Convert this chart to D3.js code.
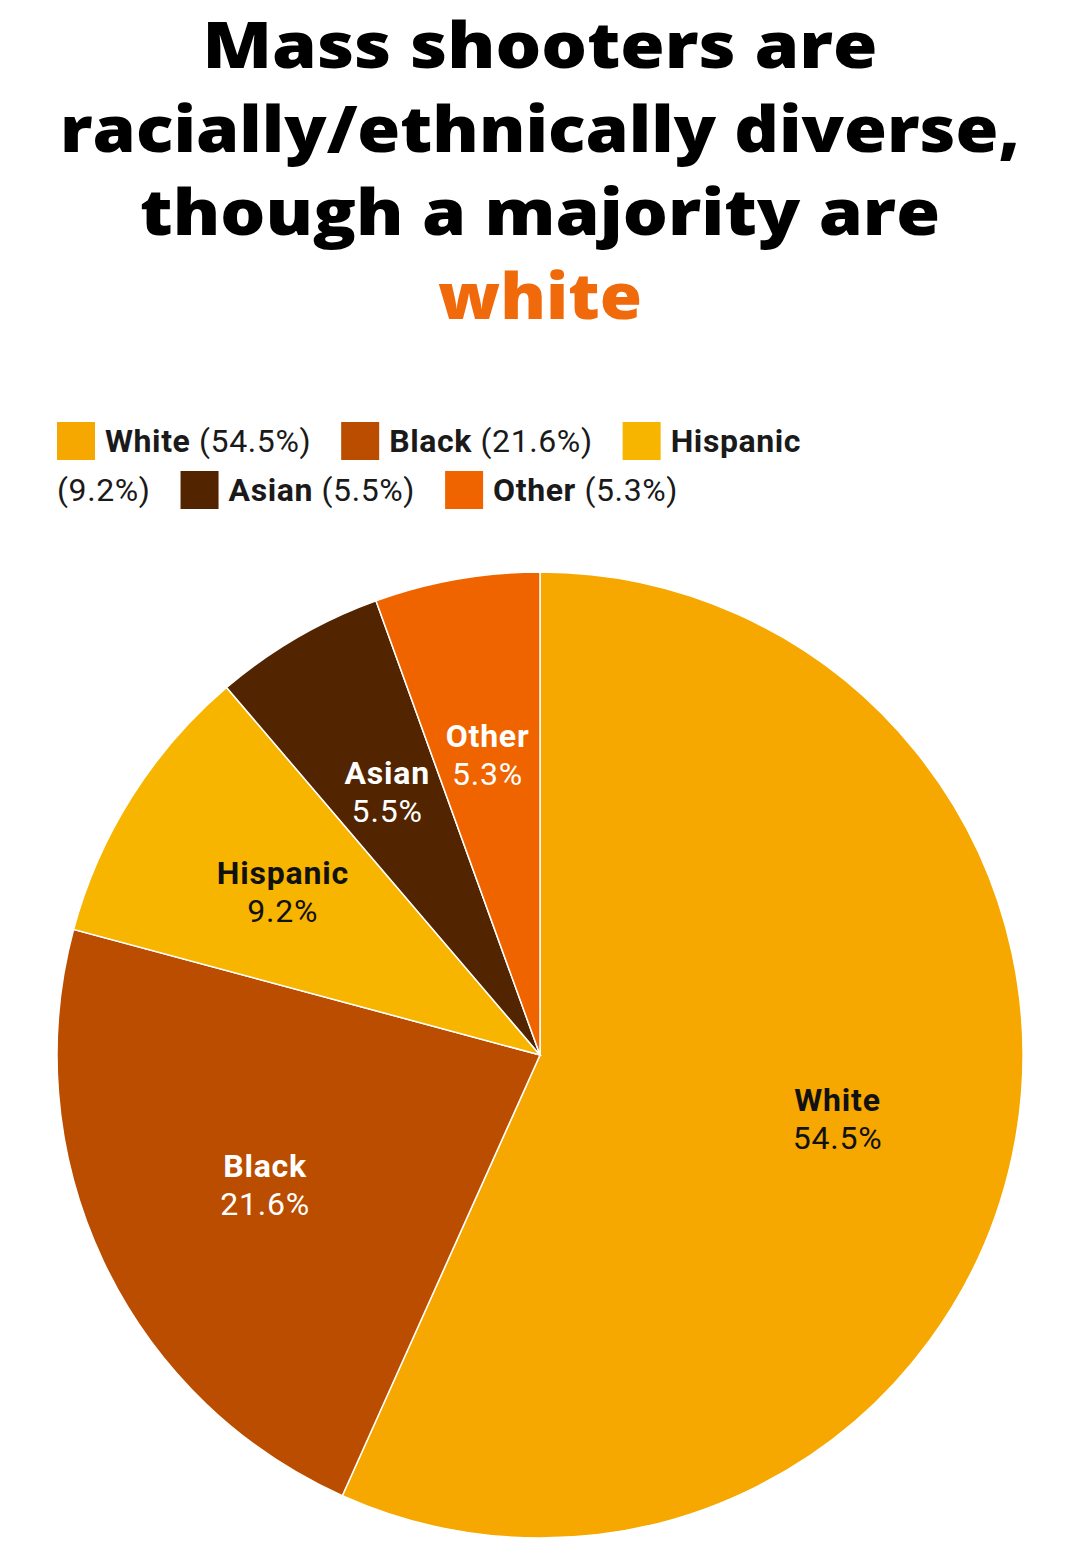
<!DOCTYPE html>
<html>
<head>
<meta charset="utf-8">
<script src="https://cdn.jsdelivr.net/npm/d3@7"></script>
<style>
  body { margin: 0; background: #fff; }
  svg { display: block; }
</style>
</head>
<body>
<div id="chart"></div>
<script>

// data
var groups = ["White", "Black", "Hispanic", "Asian", "Other"];
var shares = [54.5, 21.6, 9.2, 5.5, 5.3];
var colors = ["#f6a800", "#bb4d00", "#f8b500", "#522400", "#f06400"];
var labelInk = ["#111111", "#ffffff", "#111111", "#ffffff", "#ffffff"];
var titleLines = ["Mass shooters are", "racially/ethnically diverse,", "though a majority are", "white"];
// rendered widths of the title lines in the original
var titleWidths = [675, 960, 800, 204];

var svgWidth = 1080;
var svgHeight = 1557;

var svg = d3.select("#chart")
	.append("svg")
	.attr("width", svgWidth)
	.attr("height", svgHeight);

// title
var title = svg.append("g")
	.attr("font-family", "'Open Sans', sans-serif")
	.attr("font-weight", 800)
	.attr("font-size", 64)
	.attr("text-anchor", "middle");

title.selectAll("text")
	.data(titleLines)
	.enter()
	.append("text")
	.attr("x", svgWidth / 2)
	.attr("y", (d, i) => 68 + i * 83.5)
	.attr("textLength", (d, i) => titleWidths[i])
	.attr("lengthAdjust", "spacingAndGlyphs")
	.attr("fill", (d, i) => i === 3 ? "#f06a0c" : "#000")
	.text(d => d);

// legend, flowed like inline text
var legend = svg.append("g")
	.attr("font-family", "Roboto, sans-serif")
	.attr("font-size", 32)
	.attr("letter-spacing", 0.6)
	.attr("fill", "#1a1a1a");

var lx = 57, ly = 0, maxX = 850, rowH = 49, sq = 38;

function measure(str, weight) {
	var t = legend.append("text").attr("font-weight", weight).text(str);
	var w = t.node().getComputedTextLength();
	t.remove();
	return w;
}

var spaceW = measure("a a", 400) - measure("aa", 400);

groups.forEach(function(g, i) {
	var pct = "(" + shares[i] + "%)";
	var nameW = measure(g, 700);
	var pctW = measure(pct, 400);
	var headW = sq + 10 + nameW;
	if (lx + headW > maxX) { lx = 57; ly += rowH; }
	legend.append("rect")
		.attr("x", lx).attr("y", 422 + ly)
		.attr("width", sq).attr("height", sq)
		.attr("fill", colors[i]);
	legend.append("text")
		.attr("x", lx + sq + 10).attr("y", 452 + ly)
		.attr("font-weight", 700)
		.text(g);
	lx += headW + spaceW;
	if (lx + pctW > maxX) { lx = 57; ly += rowH; }
	legend.append("text")
		.attr("x", lx).attr("y", 452 + ly)
		.text(pct);
	lx += pctW + 30;
});

// pie
var cx = 540, cy = 1055, radius = 483;

var pie = d3.pie().sort(null).value(d => d);
var arcs = pie(shares);

var arc = d3.arc().innerRadius(0).outerRadius(radius);
var labelArc = d3.arc().innerRadius(radius * 0.63).outerRadius(radius * 0.63);

var pieGroup = svg.append("g")
	.attr("transform", `translate(${cx}, ${cy})`);

pieGroup.selectAll("path")
	.data(arcs)
	.enter()
	.append("path")
	.attr("d", arc)
	.attr("fill", (d, i) => colors[i])
	.attr("stroke", "#fff")
	.attr("stroke-width", 1.5);

var labels = pieGroup.selectAll("g.lbl")
	.data(arcs)
	.enter()
	.append("g")
	.attr("class", "lbl")
	.attr("transform", d => `translate(${labelArc.centroid(d)})`)
	.attr("font-family", "Roboto, sans-serif")
	.attr("font-size", 32)
	.attr("letter-spacing", 0.8)
	.attr("text-anchor", "middle")
	.attr("fill", (d, i) => labelInk[i]);

labels.append("text")
	.attr("y", -8)
	.attr("font-weight", 700)
	.text((d, i) => groups[i]);

labels.append("text")
	.attr("y", 30)
	.text((d, i) => shares[i] + "%");

</script>
</body>
</html>
